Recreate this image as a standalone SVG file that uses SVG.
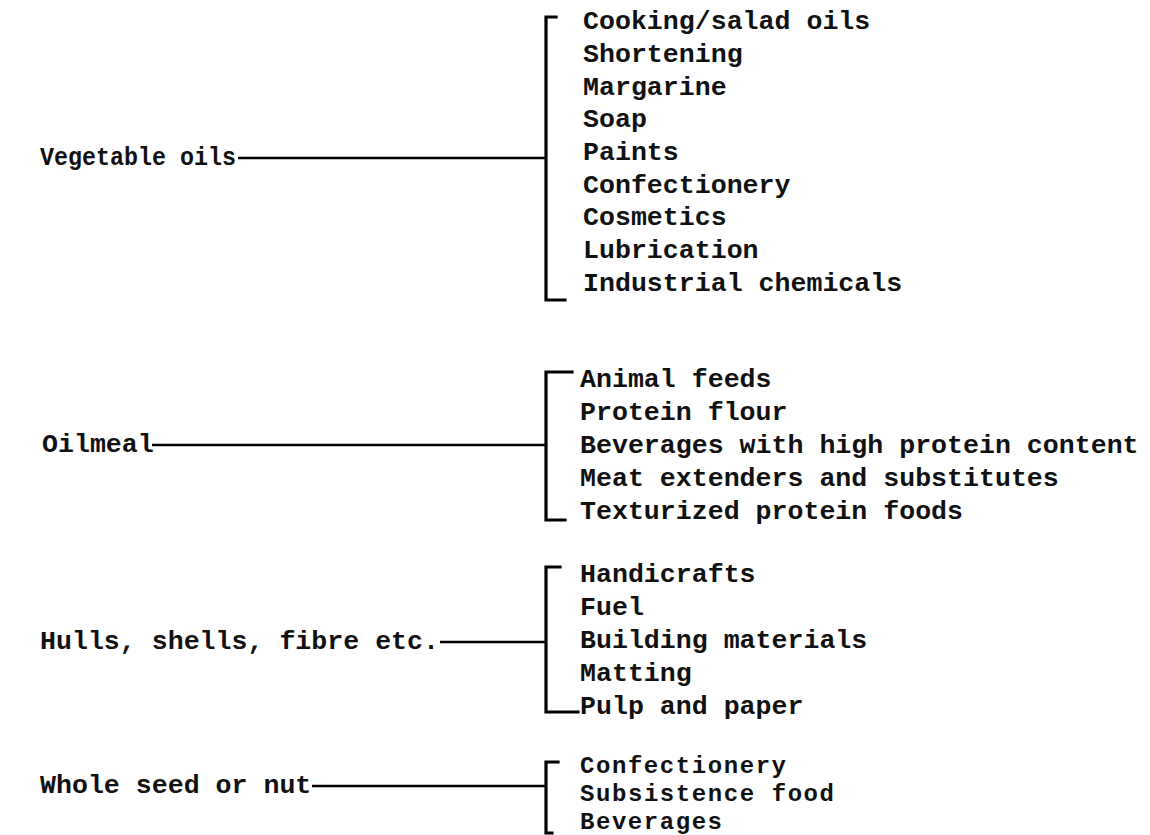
<svg xmlns="http://www.w3.org/2000/svg" width="1150" height="835" viewBox="0 0 1150 835">
<style>
text{font-family:"Liberation Mono","Courier New",monospace;font-size:26.6px;font-weight:bold;fill:#111}
text.sm{font-size:24px}
.br{fill:none;stroke:#000;stroke-width:3.2;stroke-linecap:square}
.ln{fill:none;stroke:#000;stroke-width:2.6}
</style>
<rect width="1150" height="835" fill="#fff"/>
<g id="connectors">
<line class="ln" x1="238" y1="158" x2="546" y2="158"/>
<line class="ln" x1="152" y1="445" x2="546" y2="445"/>
<line class="ln" x1="440" y1="642" x2="546" y2="642"/>
<line class="ln" x1="312" y1="786" x2="546" y2="786"/>
</g>
<g id="veg-label"><text x="40" y="165" textLength="196" lengthAdjust="spacingAndGlyphs">Vegetable oils</text></g>
<g id="veg-uses">
<polyline class="br" points="556,17 546,17 546,300 565,300"/>
<text x="583" y="29">Cooking/salad oils</text>
<text x="583" y="62">Shortening</text>
<text x="583" y="95">Margarine</text>
<text x="583" y="127">Soap</text>
<text x="583" y="160">Paints</text>
<text x="583" y="193">Confectionery</text>
<text x="583" y="225">Cosmetics</text>
<text x="583" y="258">Lubrication</text>
<text x="583" y="291">Industrial chemicals</text>
</g>
<g id="oilmeal-label"><text x="42" y="452">Oilmeal</text></g>
<g id="oilmeal-uses">
<polyline class="br" points="572,372 546,372 546,520 565,520"/>
<text x="580" y="387">Animal feeds</text>
<text x="580" y="420">Protein flour</text>
<text x="580" y="453">Beverages with high protein content</text>
<text x="580" y="486">Meat extenders and substitutes</text>
<text x="580" y="519">Texturized protein foods</text>
</g>
<g id="hulls-label"><text x="40" y="649">Hulls, shells, fibre etc.</text></g>
<g id="hulls-uses">
<polyline class="br" points="560,567 546,567 546,712 578,712"/>
<text x="580" y="582">Handicrafts</text>
<text x="580" y="615">Fuel</text>
<text x="580" y="648">Building materials</text>
<text x="580" y="681">Matting</text>
<text x="580" y="714">Pulp and paper</text>
</g>
<g id="whole-label"><text x="40" y="793">Whole seed or nut</text></g>
<g id="whole-uses">
<polyline class="br" points="558,762 546,762 546,833 552,833"/>
<text class="sm" x="580" y="773" textLength="206" lengthAdjust="spacing">Confectionery</text>
<text class="sm" x="580" y="801" textLength="254" lengthAdjust="spacing">Subsistence food</text>
<text class="sm" x="580" y="829" textLength="142" lengthAdjust="spacing">Beverages</text>
</g>
</svg>
